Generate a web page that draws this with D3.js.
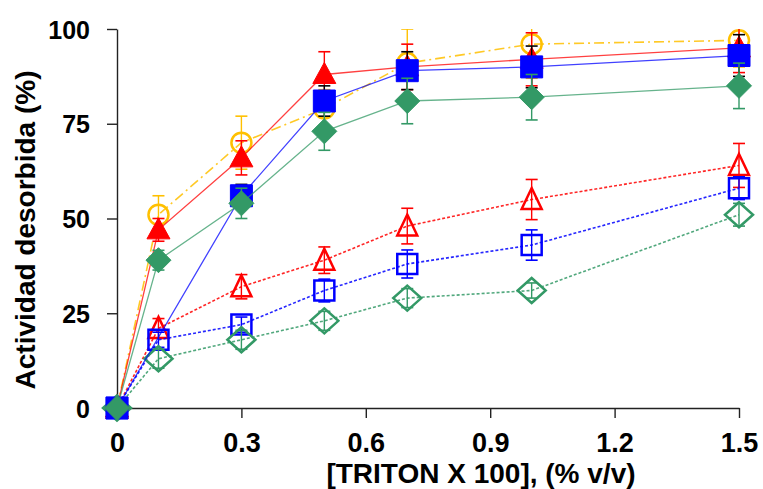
<!DOCTYPE html>
<html><head><meta charset="utf-8">
<script src="https://cdn.jsdelivr.net/npm/d3@7"></script>
<style>body{margin:0;background:#fff}svg{display:block}text{font-family:"Liberation Sans",Arial,sans-serif;font-weight:bold;fill:#000}</style>
</head><body>
<script>
// ---- data ----
const xFull = [0, 0.1, 0.3, 0.5, 0.7, 1.0, 1.5];
const xBlueFilled = [0, 0.3, 0.5, 0.7, 1.0, 1.5];
const xTicks = [0, 0.3, 0.6, 0.9, 1.2, 1.5];
const xTickLabels = ["0", "0.3", "0.6", "0.9", "1.2", "1.5"];
const yTicks = [0, 25, 50, 75, 100];

const yellowOpen = [0, 51, 70, 79, 91, 96, 97];
const yellowOpenErr = [0, 5, 7, 5, 9, 9, 7];
const redFilled = [0, 47, 66, 88, 90, 92, 95];
const redFilledErr = [0, 3, 4.5, 6, 6, 7, 6.5];
const blueFilled = [0, 56, 81, 89, 90, 93];
const blueFilledErr = [0, 3, 4, 5, 5.5, 5.5];
const greenFilled = [0, 39, 54, 73, 81, 82, 85];
const greenFilledErr = [0, 2.6, 4, 5, 6, 6, 6];
const redOpen = [0, 21, 32, 39, 48, 55, 64];
const redOpenErr = [0, 2.6, 3.2, 3.5, 4.7, 5.3, 5.8];
const blueOpen = [0, 18, 22, 31, 38, 43, 58];
const blueOpenErr = [0, 2, 2, 3, 3.7, 4, 3];
const greenOpen = [0, 13, 18, 23, 29, 31, 51];
const greenOpenErr = [0, 2.5, 2.5, 2.5, 2.5, 2, 3];

const xTitle = "[TRITON X 100], (% v/v)";
const yTitle = "Actividad desorbida (%)";

// ---- setup ----
const W = 763, H = 489;
const svg = d3.select("body").append("svg").attr("width", W).attr("height", H);
const x = d3.scaleLinear().domain([0, 1.5]).range([117, 739]);
const y = d3.scaleLinear().domain([0, 100]).range([408, 29]);

svg.append("defs").append("clipPath").attr("id", "clip")
  .append("rect").attr("x", 0).attr("y", y(100)).attr("width", W).attr("height", y(0) - y(100) + 20);

const YEL = "#FFC000", RED = "#FF0000", BLU = "#0000FF", GRN = "#339966";

const series = [
  {xs: xFull, ys: redOpen, err: redOpenErr, color: RED, errColor: RED, dash: "3,2", shape: "triangle", fill: false},
  {xs: xFull, ys: blueOpen, err: blueOpenErr, color: BLU, errColor: BLU, dash: "3,2", shape: "square", fill: false},
  {xs: xFull, ys: greenOpen, err: greenOpenErr, color: GRN, errColor: GRN, dash: "3,2", shape: "diamond", fill: false},
  {xs: xFull, ys: yellowOpen, err: yellowOpenErr, color: YEL, errColor: YEL, dash: "10,4,2,4", shape: "circle", fill: false},
  {xs: xFull, ys: redFilled, err: redFilledErr, color: RED, errColor: RED, dash: null, shape: "triangle", fill: true},
  {xs: xBlueFilled, ys: blueFilled, err: blueFilledErr, color: BLU, errColor: "#000", dash: null, shape: "square", fill: true},
  {xs: xFull, ys: greenFilled, err: greenFilledErr, color: GRN, errColor: GRN, dash: null, shape: "diamond", fill: true},
];

// ---- axes ----
const ax = svg.append("g").attr("transform", `translate(0,${y(0)})`)
  .call(d3.axisBottom(x).tickValues(xTicks).tickFormat((d, i) => xTickLabels[i]).tickSizeInner(10).tickSizeOuter(0).tickPadding(25));
ax.select(".domain").attr("stroke", "#222").attr("stroke-width", 1.4);
ax.selectAll(".tick line").attr("stroke", "#222").attr("stroke-width", 1.4);
ax.selectAll(".tick text").attr("font-size", 27).attr("font-family", "Liberation Sans, Arial, sans-serif").attr("font-weight", "bold").attr("fill", "#000").attr("dy", 0).attr("y", 44);

const ay = svg.append("g").attr("transform", `translate(${x(0)},0)`)
  .call(d3.axisLeft(y).tickValues(yTicks).tickFormat(d3.format("d")).tickSizeInner(10).tickSizeOuter(0).tickPadding(17));
ay.select(".domain").attr("stroke", "#222").attr("stroke-width", 1.4);
ay.selectAll(".tick line").attr("stroke", "#222").attr("stroke-width", 1.4);
ay.selectAll(".tick text").attr("font-size", 25).attr("font-family", "Liberation Sans, Arial, sans-serif").attr("font-weight", "bold").attr("fill", "#000").attr("dy", "0.36em");

svg.append("text").attr("x", 481).attr("y", 483).attr("text-anchor", "middle").attr("font-size", 28).text(xTitle);
svg.append("text").attr("transform", "translate(35,230) rotate(-90)").attr("text-anchor", "middle").attr("font-size", 28).text(yTitle);

// ---- marks ----
function shapePath(shape, fill) {
  if (shape === "triangle") return fill ? "M0,-12L11.5,9L-11.5,9Z" : "M0,-11.5L10,9.5L-10,9.5Z";
  if (shape === "square") return fill ? "M-11,-11H11V11H-11Z" : "M-10,-10H10V10H-10Z";
  if (shape === "diamond") return fill ? "M0,-12.5L12.5,0L0,12.5L-12.5,0Z" : "M0,-12.5L14,0L0,12.5L-14,0Z";
  return null;
}

const plot = svg.append("g").attr("clip-path", "url(#clip)");
series.forEach(s => {
  const pts = s.xs.map((xv, i) => ({x: xv, y: s.ys[i], e: s.err[i]}));
  const g = plot.append("g");
  g.append("path").datum(pts)
    .attr("d", d3.line().x(d => x(d.x)).y(d => y(d.y)))
    .attr("fill", "none").attr("stroke", s.color).attr("stroke-width", s.fill ? 1.3 : 1.6)
    .attr("stroke-opacity", s.fill ? 0.75 : 0.85)
    .attr("stroke-dasharray", s.dash);
  const eb = g.selectAll(".eb").data(pts.filter(d => d.e > 0)).enter().append("g");
  eb.append("line").attr("x1", d => x(d.x)).attr("x2", d => x(d.x))
    .attr("y1", d => y(d.y - d.e)).attr("y2", d => y(d.y + d.e))
    .attr("stroke", s.errColor).attr("stroke-width", 1.4);
  [-1, 1].forEach(sg => {
    eb.append("line").attr("x1", d => x(d.x) - 6).attr("x2", d => x(d.x) + 6)
      .attr("y1", d => y(d.y + sg * d.e)).attr("y2", d => y(d.y + sg * d.e))
      .attr("stroke", s.errColor).attr("stroke-width", 1.6);
  });
  const m = g.selectAll(".m").data(pts).enter();
  if (s.shape === "circle") {
    m.append("circle").attr("cx", d => x(d.x)).attr("cy", d => y(d.y)).attr("r", 10)
      .attr("fill", "none").attr("stroke", s.color).attr("stroke-width", 2.5);
  } else {
    m.append("path").attr("d", shapePath(s.shape, s.fill))
      .attr("transform", d => `translate(${x(d.x)},${y(d.y)})`)
      .attr("fill", s.fill ? s.color : "none")
      .attr("stroke", s.color).attr("stroke-width", s.fill ? 1 : 2.5);
  }
});
</script>
</body></html>
